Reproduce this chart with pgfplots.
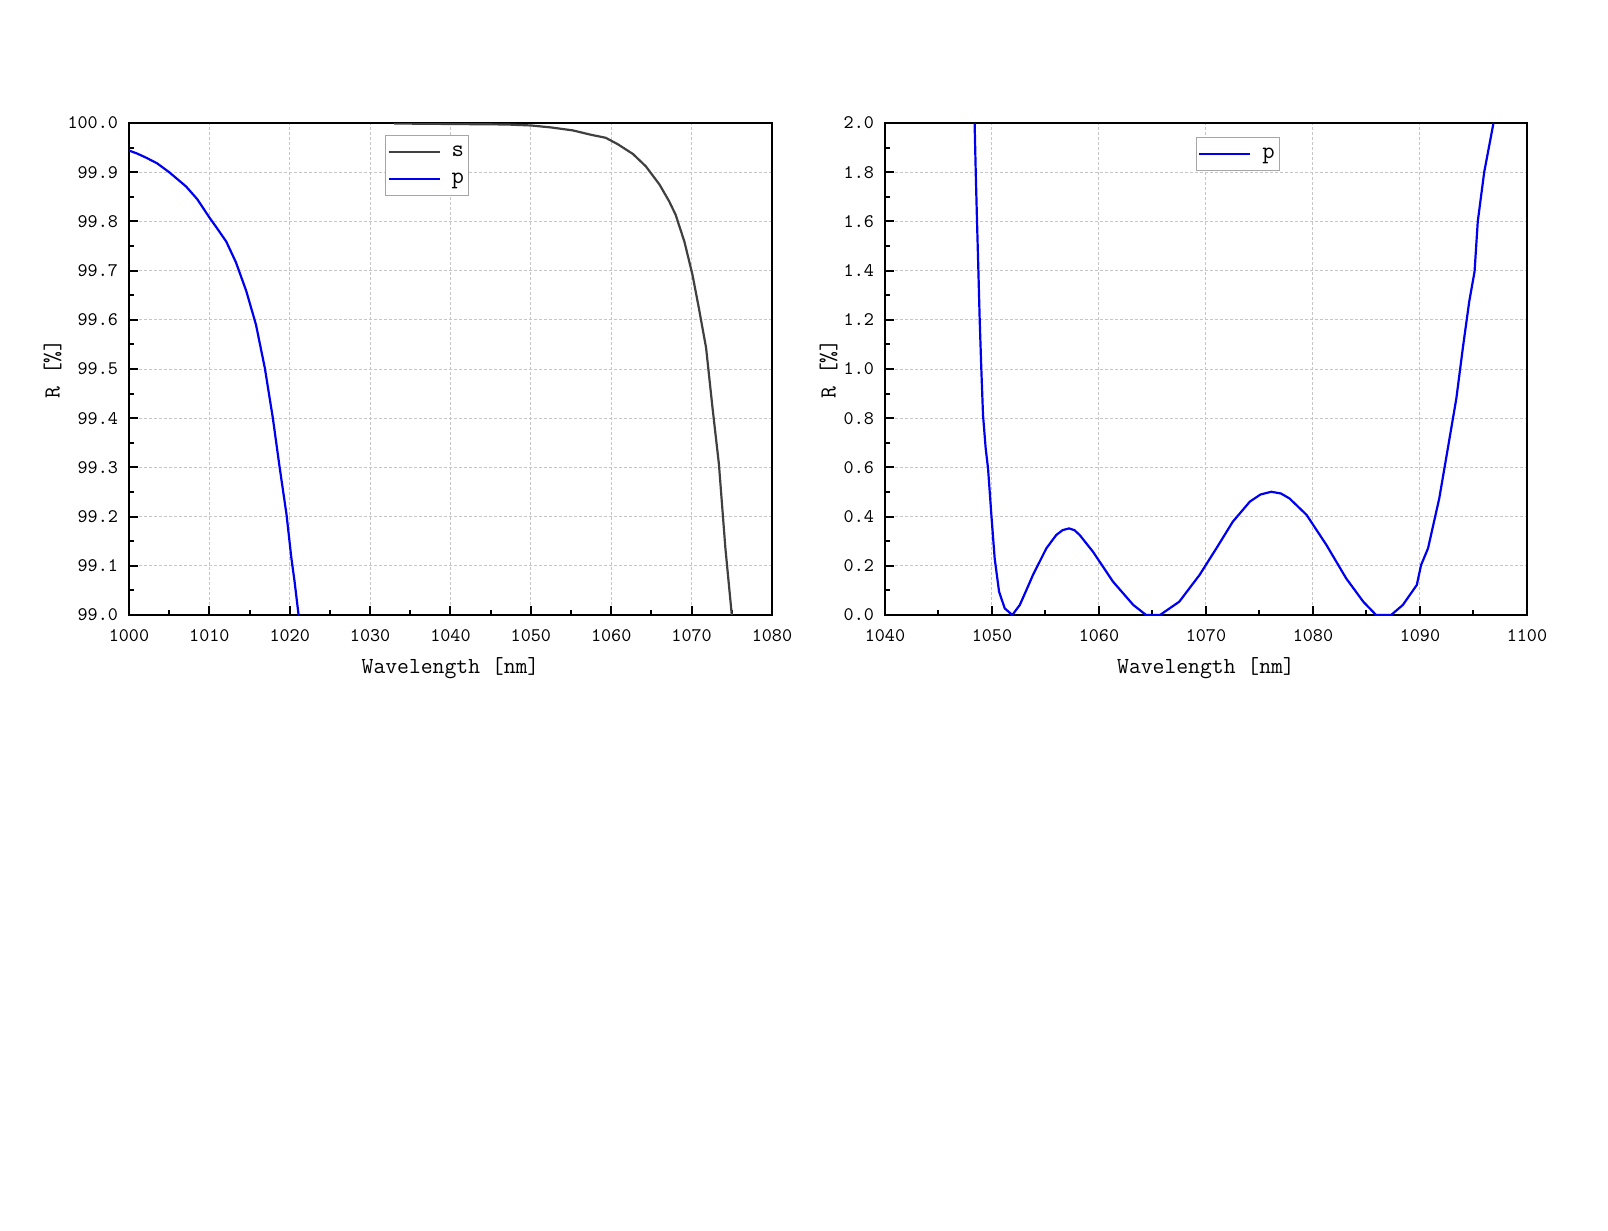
\documentclass[border=0pt]{standalone}
\usepackage{pgfplots}
\pgfplotsset{compat=1.18}

\definecolor{sgray}{HTML}{404040}
\definecolor{pblue}{HTML}{0000F0}

\pgfplotsset{
  specplot/.style={
    scale only axis,
    height=246pt,
    axis line style={line width=1pt},
    tick pos=left, tick align=inside,
    major tick length=4.5pt, minor tick length=2.3pt,
    every tick/.style={black, line width=1pt},
    grid=major,
    major grid style={gray!45, line width=0.5pt, dash pattern=on 1.5pt off 1pt},
    xtick distance=10, minor x tick num=1,
    minor y tick num=1,
    /pgf/number format/assume math mode=true,
    tick label style={font=\ttfamily\fontsize{9.6}{11}\selectfont},
    xticklabel style={/pgf/number format/1000 sep={}, yshift=-3.5pt},
    yticklabel style={/pgf/number format/.cd, fixed, fixed zerofill, precision=1, /tikz/.cd, xshift=-2pt},
    label style={font=\ttfamily\fontsize{11.5}{13}\selectfont},
    xlabel={Wavelength [nm]},
    ylabel={R [\%]},
    xlabel style={at={(axis description cs:0.5,0)}, anchor=north, yshift=-21pt, inner sep=0pt},
    legend style={draw=gray!70, line width=0.5pt, fill=white,
      font=\ttfamily\fontsize{12}{13}\selectfont, anchor=north west,
      inner xsep=1pt, inner ysep=1.5pt, row sep=0pt, column sep=4pt,
      nodes={inner xsep=1.5pt, inner ysep=2pt, anchor=west,
        text height=7pt, text depth=2.5pt}},
    legend cell align=left,
    legend image code/.code={\draw[#1] (0pt,0pt) -- (25.5pt,0pt);},
  }
}

\begin{document}
\begin{tikzpicture}
\path[use as bounding box] (0,0) rectangle (804pt,-615.5pt);

% left: 1000-1080 nm
\begin{axis}[specplot, at={(64.5pt,-61.5pt)}, anchor=north west,
  width=321.5pt,
  xmin=1000, xmax=1080, ymin=99, ymax=100, ytick distance=0.1,
  ylabel style={at={(axis description cs:-0.1187,0.5)}, anchor=center},
  legend style={at={(0.398,0.976)}}]
\addplot[sgray, line width=1.1pt] coordinates {
  (1033,99.999) (1040,99.998) (1047,99.997) (1050,99.995) (1052.5,99.991)
  (1055.2,99.985) (1057.5,99.976) (1059.3,99.970) (1060.8,99.957)
  (1062.7,99.937) (1064.3,99.912) (1066.0,99.875) (1067.2,99.841)
  (1068.0,99.814) (1069.1,99.759) (1070.1,99.692) (1070.9,99.624)
  (1071.8,99.543) (1072.6,99.421) (1073.4,99.306) (1074.2,99.136)
  (1075.0,99.0)
};
\addlegendentry{s}
\addplot[pblue, line width=1.1pt] coordinates {
  (1000,99.944) (1001,99.938) (1002.2,99.929) (1003.5,99.918) (1005,99.900)
  (1007.1,99.871) (1008.5,99.845) (1010,99.808) (1011,99.785)
  (1012.1,99.759) (1013.3,99.717) (1014.6,99.658) (1015.8,99.590)
  (1016.9,99.502) (1017.9,99.400) (1018.7,99.305) (1019.6,99.204)
  (1020.2,99.116) (1020.6,99.068) (1021.1,99.0)
};
\addlegendentry{p}
\end{axis}

% right: 1040-1100 nm
\begin{axis}[specplot, at={(442.5pt,-61.5pt)}, anchor=north west,
  width=321pt,
  xmin=1040, xmax=1100, ymin=0, ymax=2, ytick distance=0.2,
  ylabel style={at={(axis description cs:-0.0878,0.5)}, anchor=center},
  legend style={at={(0.484,0.972)}}]
\addplot[pblue, line width=1.1pt] coordinates {
  (1048.35,2.05) (1048.48,1.80) (1048.6,1.60) (1048.73,1.396) (1048.85,1.199)
  (1049.0,1.002) (1049.16,0.813) (1049.41,0.677) (1049.63,0.596)
  (1049.94,0.407) (1050.25,0.230) (1050.66,0.095) (1051.19,0.027)
  (1051.9,0.0) (1052.6,0.041) (1053.2,0.100) (1053.83,0.163) (1055.08,0.271)
  (1056.0,0.325) (1056.6,0.345) (1057.2,0.352) (1057.7,0.345) (1058.2,0.325)
  (1059.44,0.257) (1061.3,0.136) (1063.2,0.041) (1064.4,0.0) (1065.7,0.0)
  (1067.5,0.054) (1069.4,0.163) (1070.97,0.271) (1072.5,0.379) (1074.1,0.461)
  (1075.1,0.490) (1076.1,0.501) (1077.0,0.494) (1077.8,0.474) (1079.4,0.407)
  (1081.25,0.285) (1083.1,0.149) (1084.7,0.054) (1085.9,0.0) (1087.3,0.0)
  (1088.4,0.041) (1089.7,0.122) (1090.1,0.203) (1090.75,0.271) (1091.8,0.474)
  (1092.6,0.677) (1093.4,0.881) (1094.0,1.084) (1094.6,1.274)
  (1095.1,1.396) (1095.4,1.60) (1096.0,1.80) (1097.0,2.03)
};
\addlegendentry{p}
\end{axis}
\end{tikzpicture}
\end{document}
